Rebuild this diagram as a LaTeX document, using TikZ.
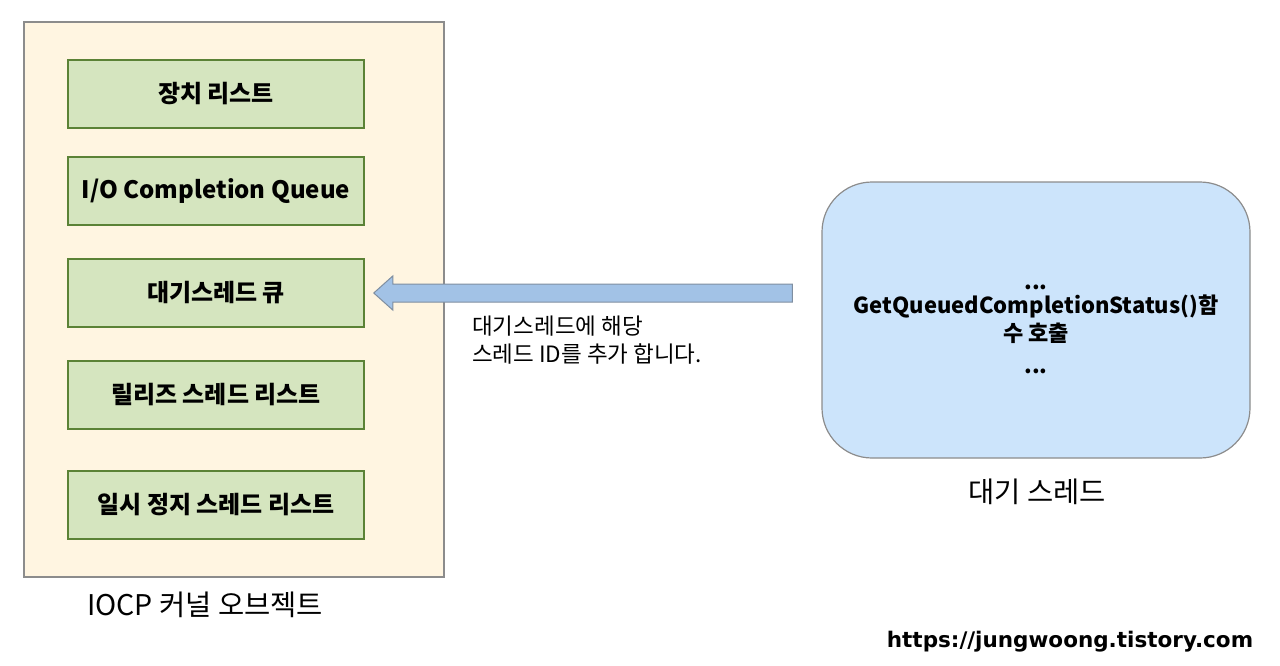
\documentclass[tikz,border=0pt]{standalone}
\usepackage{fontspec}
\setmainfont{Noto Sans CJK KR}
\newfontfamily\urlfont{DejaVu Sans}
\usetikzlibrary{positioning}

\definecolor{kernfill}{HTML}{FFF5E1}
\definecolor{kerndraw}{HTML}{8C8C8C}
\definecolor{listfill}{HTML}{D5E5BF}
\definecolor{listdraw}{HTML}{5B8236}
\definecolor{thrfill}{HTML}{CCE4FB}
\definecolor{arrfill}{HTML}{A2C2E6}
\definecolor{arrdraw}{HTML}{7F8EA0}

\tikzset{
  kernbox/.style={draw=kerndraw, fill=kernfill, line width=1.2pt, minimum width=420pt, minimum height=555pt},
  listbox/.style={draw=listdraw, fill=listfill, line width=1.5pt, minimum width=296pt, minimum height=68pt,
    font=\fontsize{24}{28}\selectfont\bfseries},
  thrbox/.style={draw=kerndraw, fill=thrfill, line width=1.2pt, rounded corners=50pt,
    minimum width=428pt, minimum height=276pt},
  caption/.style={font=\fontsize{28.5}{32}\selectfont}
}

\begin{document}
\begin{tikzpicture}[x=1pt,y=-1pt]
\useasboundingbox (0,0) rectangle (1280,665);

% IOCP kernel object
\node[kernbox] (kern) at (234,299.5) {};
\node[caption] (kernlbl) at (205,605) {IOCP 커널 오브젝트};

% the lists inside
\foreach \n/\y/\t in {dev/94/{장치 리스트}, iocq/191/{I/O Completion Queue}, wq/293/{대기스레드 큐},
  rel/395/{릴리즈 스레드 리스트}, pause/505/{일시 정지 스레드 리스트}}
  \node[listbox] (\n) at (216,\y) {\t};

% waiting thread
\node[thrbox] (thr) at (1036,320) {};
\node[align=center, font=\fontsize{22}{28}\selectfont\bfseries] (thrtxt) at ([yshift=-9pt]thr.center)
  {...\\[-4pt]GetQueuedCompletionStatus()함\\수 호출\\[4pt]...};
\node[caption] (thrlbl) at (1037,492) {대기 스레드};

% block arrow
\coordinate (tip) at ([xshift=9pt]wq.east);
\coordinate (tail) at ([xshift=-29pt]thr.west |- wq.east);
\draw[draw=arrdraw, fill=arrfill, line width=1pt]
  (tip) -- ++(19,-17) -- ++(0,8) -- ([yshift=9pt]tail) -- ([yshift=-9pt]tail)
  -- ([xshift=19pt,yshift=-9pt]tip) -- ++(0,8) -- cycle;
\node[font=\fontsize{22.5}{28}\selectfont, align=left, anchor=north west, inner sep=0pt] (arrlbl) at (472,316)
  {대기스레드에 해당\\스레드 ID를 추가 합니다.};

% url
\node[font=\urlfont\fontsize{21.5}{24}\selectfont\bfseries] (url) at (1070,642) {https://jungwoong.tistory.com};
\end{tikzpicture}
\end{document}
